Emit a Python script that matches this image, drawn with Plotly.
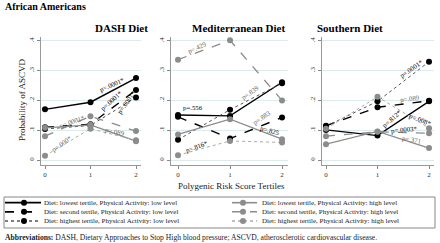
import plotly.graph_objects as go

# ---------------- data ----------------
tertiles = [0, 1, 2]
tick_labels = ["0", "1", "2"]
y_ticks = [0, 0.1, 0.2, 0.3, 0.4]
y_tick_labels = ["0", ".1", ".2", ".3", ".4"]

panels = ["DASH Diet", "Mediterranean Diet", "Southern Diet"]

series_names = [
    "Diet: lowest tertile, Physical Activity: low level",
    "Diet: second tertile, Physical Activity: low level",
    "Diet: highest tertile, Physical Activity: low level",
    "Diet: lowest tertile, Physical Activity: high level",
    "Diet: second tertile, Physical Activity: high level",
    "Diet: highest tertile, Physical Activity: high level",
]

dash_low_lowest = [0.170, 0.194, 0.275]
dash_low_second = [0.110, 0.120, 0.235]
dash_low_highest = [0.104, 0.116, 0.210]
dash_high_lowest = [0.108, 0.118, 0.063]
dash_high_second = [0.080, 0.147, 0.097]
dash_high_highest = [0.014, 0.105, 0.066]

med_low_lowest = [0.151, 0.148, 0.261]
med_low_second = [0.145, 0.072, 0.143]
med_low_highest = [0.068, 0.169, 0.258]
med_high_lowest = [0.086, 0.137, 0.070]
med_high_second = [0.337, 0.402, 0.200]
med_high_highest = [0.016, 0.064, 0.059]

south_low_lowest = [0.101, 0.082, 0.197]
south_low_second = [0.115, 0.177, 0.199]
south_low_highest = [0.113, 0.197, 0.330]
south_high_lowest = [0.053, 0.096, 0.040]
south_high_second = [0.080, 0.095, 0.090]
south_high_highest = [0.105, 0.212, 0.107]

panel_values = [
    [dash_low_lowest, dash_low_second, dash_low_highest,
     dash_high_lowest, dash_high_second, dash_high_highest],
    [med_low_lowest, med_low_second, med_low_highest,
     med_high_lowest, med_high_second, med_high_highest],
    [south_low_lowest, south_low_second, south_low_highest,
     south_high_lowest, south_high_second, south_high_highest],
]

# p-value labels: (text, x, y, angle, is_low_PA)
dash_pvals = [("p=.0001*", 1.48, 0.252, -24, True),
              ("p=.0001*", 1.46, 0.200, -42, True),
              ("p=.0001*", 1.80, 0.196, -55, True),
              ("p=.0001*", 0.60, 0.128, -20, False),
              ("p=.000*", 0.37, 0.056, -35, False),
              ("p=.089", 1.54, 0.095, 12, False)]
med_pvals = [("p=.429", 0.36, 0.379, -25, False),
             ("p=.556", 0.29, 0.176, 0, True),
             ("p=.839", 1.38, 0.228, -35, False),
             ("p=.883", 1.61, 0.142, -35, False),
             ("p=.825", 1.77, 0.098, 15, True),
             ("p=.816*", 0.36, 0.047, -20, True)]
south_pvals = [("p=.0001*", 1.66, 0.308, -35, True),
               ("p=.089", 1.63, 0.207, -8, False),
               ("p=.812*", 1.28, 0.140, -42, True),
               ("p=.008*", 1.83, 0.137, 22, True),
               ("p=.0003*", 1.53, 0.103, -5, True),
               ("p=.371", 1.66, 0.070, 10, False)]
panel_pvals = [dash_pvals, med_pvals, south_pvals]

# ---------------- styles ----------------
SERIF = "Liberation Serif, Times New Roman, serif"
BLACK = "#000000"
GRAY = "#8c8c8c"
styles = [
    dict(color=BLACK, dash="solid", width=1.4),
    dict(color=BLACK, dash="dash", width=1.4),
    dict(color="#555555", dash="dot", width=1.0),
    dict(color=GRAY, dash="solid", width=1.3),
    dict(color=GRAY, dash="dash", width=1.3),
    dict(color="#aaaaaa", dash="dot", width=1.0),
]
marker_colors = [BLACK, BLACK, BLACK, GRAY, GRAY, GRAY]

W, H = 440, 243
x_dom_px = [(41, 141), (171, 288), (322, 434)]
x_ranges = [(-0.088, 2.11), (-0.135, 2.115), (-0.078, 2.097)]
y_dom_px = (37, 165)
y_range = (-0.0168, 0.413)

fig = go.Figure()

for p in range(3):
    sfx = "" if p == 0 else str(p + 1)
    for s in range(6):
        fig.add_trace(go.Scatter(
            x=tertiles, y=panel_values[p][s], mode="lines+markers",
            name=series_names[s],
            line=styles[s],
            marker=dict(color=marker_colors[s], size=6, symbol="circle"),
            xaxis="x" + sfx, yaxis="y" + sfx, showlegend=False,
        ))

annotations = []
shapes = []
for p in range(3):
    sfx = "" if p == 0 else str(p + 1)
    for (txt, xx, yy, ang, low) in panel_pvals[p]:
        annotations.append(dict(
            text=txt, x=xx, y=yy, xref="x" + sfx, yref="y" + sfx,
            showarrow=False, textangle=ang,
            font=dict(family=SERIF, size=6.8, color=BLACK if low else "#666666"),
        ))


def px(xp):
    return xp / W


def py(yp):
    return 1 - yp / H


# ---------------- manual legend ----------------
shapes.append(dict(type="rect", xref="paper", yref="paper",
                   x0=px(4), x1=px(435), y0=py(197), y1=py(228),
                   line=dict(color="#888888", width=1), fillcolor="white",
                   layer="below"))
row_y = [202.7, 211.8, 221.0]
col_line = [(5, 41, 24, 42), (232, 257, 243, 260)]
for s in range(6):
    col = s // 3
    r = s % 3
    lx0, lx1, mx, tx = col_line[col]
    yy = row_y[r]
    shapes.append(dict(type="line", xref="paper", yref="paper",
                       x0=px(lx0), x1=px(lx1), y0=py(yy), y1=py(yy),
                       line=dict(color=styles[s]["color"], dash=styles[s]["dash"],
                                 width=styles[s]["width"] + 0.3)))
    shapes.append(dict(type="circle", xref="paper", yref="paper",
                       x0=px(mx - 3), x1=px(mx + 3), y0=py(yy + 3), y1=py(yy - 3),
                       line=dict(width=0), fillcolor=marker_colors[s]))
    annotations.append(dict(text=series_names[s], x=px(tx), y=py(yy),
                            xref="paper", yref="paper", xanchor="left",
                            yanchor="middle", showarrow=False,
                            font=dict(family=SERIF, size=7, color="#222222")))

layout = dict(
    width=W, height=H, margin=dict(l=0, r=0, t=0, b=0),
    paper_bgcolor="white", plot_bgcolor="white",
    showlegend=False,
)

for p in range(3):
    sfx = "" if p == 0 else str(p + 1)
    x0, x1 = x_dom_px[p]
    layout["xaxis" + sfx] = dict(
        domain=[x0 / W, x1 / W], range=list(x_ranges[p]),
        anchor="y" + sfx, tickvals=tertiles, ticktext=tick_labels,
        ticks="outside", ticklen=3, tickcolor="#888888",
        showline=True, linecolor="#999999", linewidth=1,
        showgrid=False, zeroline=False,
        tickfont=dict(family=SERIF, size=7, color="#333333"),
    )
    layout["yaxis" + sfx] = dict(
        domain=[1 - y_dom_px[1] / H, 1 - y_dom_px[0] / H], range=list(y_range),
        anchor="x" + sfx, tickvals=y_ticks, ticktext=y_tick_labels,
        ticks="outside", ticklen=3, tickcolor="#888888", tickangle=-90,
        showline=True, linecolor="#999999", linewidth=1,
        showgrid=True, gridcolor="#dcecec", gridwidth=1, zeroline=False,
        tickfont=dict(family=SERIF, size=7, color="#333333"),
    )

title_centers = [93, 238.5, 385]
for p in range(3):
    annotations.append(dict(
        text="<b>" + panels[p] + "</b>", x=px(title_centers[p]),
        y=py(28), xref="paper", yref="paper", showarrow=False,
        font=dict(family=SERIF, size=11, color=BLACK), yanchor="middle",
    ))

annotations += [
    dict(text="<b>African Americans</b>", x=px(3), y=py(6), xref="paper",
         yref="paper", xanchor="left", yanchor="middle", showarrow=False,
         font=dict(family=SERIF, size=10, color=BLACK)),
    dict(text="Polygenic Risk Score Tertiles", x=px(232), y=py(186),
         xref="paper", yref="paper", showarrow=False, yanchor="middle",
         font=dict(family=SERIF, size=9, color="#222222")),
    dict(text="Probability of ASCVD", x=px(15), y=py(100), xref="paper",
         yref="paper", showarrow=False, textangle=-90,
         font=dict(family=SERIF, size=9, color="#222222")),
    dict(text="<b>Abbreviations:</b> DASH, Dietary Approaches to Stop High blood pressure; "
              "ASCVD, atherosclerotic cardiovascular disease.",
         x=px(3), y=py(237), xref="paper", yref="paper", xanchor="left",
         yanchor="middle", showarrow=False,
         font=dict(family=SERIF, size=7.6, color="#222222")),
]
layout["annotations"] = annotations
layout["shapes"] = shapes

fig.update_layout(**layout)
fig.write_html("out.html", config={"displayModeBar": False},
               post_script="document.body.style.margin='0px';"
                           "document.body.style.overflow='hidden';")
